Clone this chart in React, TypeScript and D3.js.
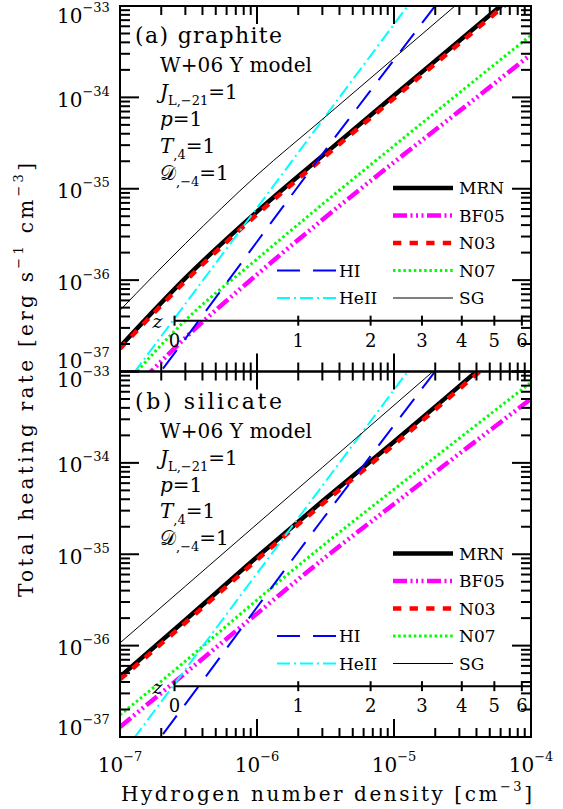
import React from 'react';
import * as d3 from 'd3';

// ---------------- data ----------------
const densities = [1e-7, 3e-7, 1e-6, 3e-6, 1e-5, 3e-5, 1e-4];

// panel (a) graphite
const graphiteMRN = [1.86e-37, 1.05e-36, 5.62e-36, 2.29e-35, 1.05e-34, 4.17e-34, 1.91e-33];
const graphiteBF05 = [4.47e-38, 2.34e-37, 1.15e-36, 4.57e-36, 1.95e-35, 7.08e-35, 2.95e-34];
const graphiteN03 = [1.78e-37, 9.77e-37, 5.25e-36, 2.14e-35, 9.77e-35, 3.89e-34, 1.78e-33];
const graphiteN07 = [6.17e-38, 3.63e-37, 1.7e-36, 6.76e-36, 2.95e-35, 1.12e-34, 4.79e-34];
const graphiteSG = [4.68e-37, 2.51e-36, 1.41e-35, 5.75e-35, 2.69e-34, 1.1e-33, 5.13e-33];

// panel (b) silicate
const silicateMRN = [4.57e-37, 1.91e-36, 9.33e-36, 3.8e-35, 1.7e-34, 6.92e-34, 3.24e-33];
const silicateBF05 = [1.29e-37, 5.01e-37, 2.24e-36, 8.71e-36, 3.55e-35, 1.26e-34, 5.01e-34];
const silicateN03 = [4.27e-37, 1.78e-36, 8.71e-36, 3.55e-35, 1.58e-34, 6.46e-34, 3.02e-33];
const silicateN07 = [1.74e-37, 6.76e-37, 3.16e-36, 1.23e-35, 5.13e-35, 1.86e-34, 7.59e-34];
const silicateSG = [1.07e-36, 4.47e-36, 2.14e-35, 8.91e-35, 4.27e-34, 1.78e-33, 8.51e-33];

// gas photoheating (same in both panels)
const gasHI = [2.51e-38, 2.29e-37, 2.63e-36, 2.4e-35, 2.57e-34, 2.24e-33, 2.4e-32];
const gasHeII = [6.03e-38, 5.5e-37, 6.17e-36, 5.62e-35, 6.31e-34, 5.75e-33, 6.61e-32];

const xTickExps = [-7, -6, -5, -4];
const yTickExps = [-37, -36, -35, -34, -33];
const redshiftTicks = [0, 1, 2, 3, 4, 5, 6];
const densityAtZ0 = 2.5e-7;
const redshiftAxisLevel = 3.6e-37;

const seriesOrder = ['MRN', 'BF05', 'N03', 'N07', 'HI', 'HeII', 'SG'];
const legendRight = ['MRN', 'BF05', 'N03', 'N07', 'SG'];
const legendLeft = ['HI', 'HeII'];

// ---------------- layout / style ----------------
const W = 563;
const H = 809;
const X0 = 120;
const X1 = 531;
const PH = 365.5;
const FONT = 'DejaVu Serif';

const styles: Record<string, { color: string; width: number; dash?: string }> = {
  MRN: { color: '#000000', width: 4.5 },
  BF05: { color: '#ff00ff', width: 4.5, dash: '14 3.5 2 3.5 2 3.5 2 3.5' },
  N03: { color: '#ff0000', width: 4.5, dash: '8.3 8.3' },
  N07: { color: '#00ff00', width: 3, dash: '2.5 2.7' },
  HI: { color: '#0000ff', width: 2, dash: '23 13' },
  HeII: { color: '#00ffff', width: 2, dash: '13 4 2 4' },
  SG: { color: '#000000', width: 1 },
};

const panels = [
  {
    id: 'a',
    top: 6,
    title: '(a) graphite',
    topLabelShift: 17,
    bottomLabelShift: 4,
    data: {
      MRN: graphiteMRN, BF05: graphiteBF05, N03: graphiteN03, N07: graphiteN07,
      HI: gasHI, HeII: gasHeII, SG: graphiteSG,
    } as Record<string, number[]>,
  },
  {
    id: 'b',
    top: 371.5,
    title: '(b) silicate',
    topLabelShift: 15,
    bottomLabelShift: 2,
    data: {
      MRN: silicateMRN, BF05: silicateBF05, N03: silicateN03, N07: silicateN07,
      HI: gasHI, HeII: gasHeII, SG: silicateSG,
    } as Record<string, number[]>,
  },
];

const xScale = d3.scaleLog().domain([1e-7, 1e-4]).range([X0, X1]);
const isMajor = (v: number) => Math.abs(Math.log10(v) - Math.round(Math.log10(v))) < 1e-6;

function Panel({ p }: { p: typeof panels[number] }) {
  const top = p.top;
  const bottom = top + PH;
  const y = d3.scaleLog().domain([1e-37, 1e-33]).range([bottom, top]);
  const line = d3
    .line<[number, number]>()
    .x((d) => xScale(d[0]))
    .y((d) => y(d[1]))
    .curve(d3.curveMonotoneX);
  const xt = xScale.ticks();
  const yt = y.ticks();
  const zy = y(redshiftAxisLevel);
  const zx = (z: number) => xScale(densityAtZ0 * Math.pow(1 + z, 3));
  const clipId = `clip-${p.id}`;
  const majorLen = 18;
  const minorLen = 9;
  const legY = (i: number) => top + 182 + i * 27.5;
  const tx = 160;
  return (
    <g>
      <defs>
        <clipPath id={clipId}>
          <rect x={X0} y={top} width={X1 - X0} height={PH} />
        </clipPath>
      </defs>
      <g clipPath={`url(#${clipId})`}>
        {seriesOrder.map((k) => {
          const s = styles[k];
          const pts = densities.map((n, i) => [n, p.data[k][i]] as [number, number]);
          return (
            <path
              key={k}
              d={line(pts) || ''}
              fill="none"
              stroke={s.color}
              strokeWidth={s.width}
              strokeDasharray={s.dash}
            />
          );
        })}
      </g>
      {/* redshift axis */}
      <g stroke="#000" strokeWidth={2}>
        <line x1={zx(0)} x2={X1} y1={zy} y2={zy} />
        {redshiftTicks.map((z) => (
          <line key={z} x1={zx(z)} x2={zx(z)} y1={zy - 5} y2={zy + 5} />
        ))}
      </g>
      {redshiftTicks.map((z) => (
        <text key={z} x={zx(z)} y={zy + 26} fontSize={18} fontFamily={FONT} textAnchor="middle">
          {z}
        </text>
      ))}
      <text x={157.5} y={zy + 7.5} fontSize={19} fontFamily={FONT} fontStyle="italic" textAnchor="middle">
        z
      </text>
      {/* frame ticks */}
      <g stroke="#000" strokeWidth={2}>
        {xt.map((v, i) => {
          const L = isMajor(v) ? majorLen : minorLen;
          const x = xScale(v);
          return (
            <g key={i}>
              <line x1={x} x2={x} y1={top} y2={top + L} />
              <line x1={x} x2={x} y1={bottom} y2={bottom - L} />
            </g>
          );
        })}
        {yt.map((v, i) => {
          const L = isMajor(v) ? majorLen + 1 : minorLen + 1;
          const yy = y(v);
          return (
            <g key={i}>
              <line x1={X0} x2={X0 + L} y1={yy} y2={yy} />
              <line x1={X1} x2={X1 - L} y1={yy} y2={yy} />
            </g>
          );
        })}
        <rect x={X0} y={top} width={X1 - X0} height={PH} fill="none" />
      </g>
      {/* y tick labels */}
      {yTickExps.map((e) => {
        const ty = y(Math.pow(10, e));
        const by = e === -33 ? top + p.topLabelShift : e === -37 ? bottom - p.bottomLabelShift : ty + 9.5;
        return (
          <text key={e} x={57} y={by} fontSize={20} fontFamily={FONT}>
            10
            <tspan fontSize={13} dy={-11}>
              {'\u2212' + Math.abs(e)}
            </tspan>
          </text>
        );
      })}
      {/* annotations */}
      <text x={135} y={top + 37} fontSize={22} fontFamily={FONT} textLength={147} lengthAdjust="spacing">
        {p.title}
      </text>
      <text x={tx} y={top + 66} fontSize={20} fontFamily={FONT} textLength={152} lengthAdjust="spacing">
        W+06 Y model
      </text>
      <text x={tx} y={top + 93} fontSize={20} fontFamily={FONT}>
        <tspan fontStyle="italic">J</tspan>
        <tspan fontSize={13} dy={6}>L,−21</tspan>
        <tspan dy={-6}>=1</tspan>
      </text>
      <text x={tx} y={top + 120} fontSize={20} fontFamily={FONT}>
        <tspan fontStyle="italic">p</tspan>
        <tspan>=1</tspan>
      </text>
      <text x={tx} y={top + 146.5} fontSize={20} fontFamily={FONT}>
        <tspan fontStyle="italic">T</tspan>
        <tspan fontSize={13} dy={6}>,4</tspan>
        <tspan dy={-6}>=1</tspan>
      </text>
      <text x={tx} y={top + 173.5} fontSize={20} fontFamily={FONT}>
        <tspan>𝒟</tspan>
        <tspan fontSize={13} dy={6}>,−4</tspan>
        <tspan dy={-6}>=1</tspan>
      </text>
      {/* legend */}
      {legendRight.map((k, i) => {
        const s = styles[k];
        const ly = legY(i);
        return (
          <g key={k}>
            <line x1={393} x2={453} y1={ly} y2={ly} stroke={s.color} strokeWidth={s.width} strokeDasharray={s.dash} />
            <text x={459} y={ly + 6} fontSize={17} fontFamily={FONT}>
              {k}
            </text>
          </g>
        );
      })}
      {legendLeft.map((k, i) => {
        const s = styles[k];
        const ly = legY(i + 3);
        return (
          <g key={k}>
            <line x1={277} x2={337} y1={ly} y2={ly} stroke={s.color} strokeWidth={s.width} strokeDasharray={s.dash} />
            <text x={339} y={ly + 6} fontSize={17} fontFamily={FONT}>
              {k}
            </text>
          </g>
        );
      })}
    </g>
  );
}

export default function App() {
  return (
    <svg
      width={W}
      height={H}
      viewBox={`0 0 ${W} ${H}`}
      style={{ position: 'absolute', left: 0, top: 0, background: '#fff' }}
    >
      <rect x={0} y={0} width={W} height={H} fill="#fff" />
      {panels.map((p) => (
        <Panel key={p.id} p={p} />
      ))}
      {/* x tick labels */}
      {xTickExps.map((e) => (
        <text key={e} x={xScale(Math.pow(10, e))} y={772} fontSize={20} fontFamily={FONT} textAnchor="middle">
          10
          <tspan fontSize={13} dy={-11}>
            {'\u2212' + Math.abs(e)}
          </tspan>
        </text>
      ))}
      <text x={121} y={801} fontSize={20} fontFamily={FONT} textLength={411} lengthAdjust="spacing">
        Hydrogen number density [cm
        <tspan fontSize={13} dy={-10}>−3</tspan>
        <tspan dy={10}>]</tspan>
      </text>
      <g transform="translate(33,380) rotate(-90)">
        <text x={0} y={0} fontSize={20} fontFamily={FONT} textAnchor="middle" textLength={434} lengthAdjust="spacing">
          Total heating rate [erg s
          <tspan fontSize={13} dy={-10}>−1</tspan>
          <tspan dy={10}> cm</tspan>
          <tspan fontSize={13} dy={-10}>−3</tspan>
          <tspan dy={10}>]</tspan>
        </text>
      </g>
    </svg>
  );
}
